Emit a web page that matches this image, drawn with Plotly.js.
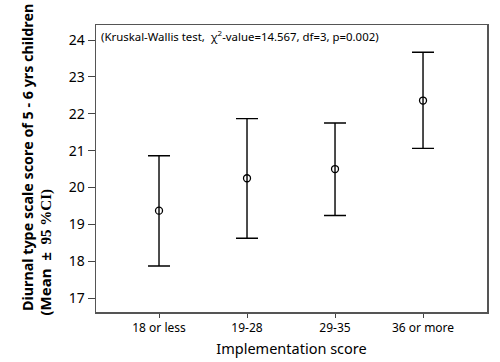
<!DOCTYPE html>
<html>
<head>
<meta charset="utf-8">
<script src="https://cdn.plot.ly/plotly-3.0.1.min.js"></script>
<style>html,body{margin:0;padding:0;background:#fff;}#chart{width:500px;height:362px;}</style>
</head>
<body>
<div id="chart"></div>
<script>
const categories = ["18 or less", "19-28", "29-35", "36 or more"];
const means = [19.37, 20.25, 20.50, 22.36];
const ciUpper = [20.86, 21.87, 21.75, 23.67];
const ciLower = [17.87, 18.62, 19.24, 21.06];
const yTicks = [17, 18, 19, 20, 21, 22, 23, 24];
const noteText = "(Kruskal-Wallis test,  \u03C7<sup>2</sup>-value=14.567, df=3, p=0.002)";
const yTitleLine1 = "Diurnal type scale score of 5 - 6 yrs children";
const yTitleLine2a = "(Mean \u00A0\u00B1\u00A0 ";
const yTitleLine2b = "95 %CI)";

const FONT = "Noto Sans, Open Sans, sans-serif";
const idx = categories.map((c, i) => i);

const trace = {
  type: "scatter",
  mode: "markers",
  x: idx,
  y: means,
  marker: {symbol: "circle-open", size: 7, color: "#000", line: {width: 1.3, color: "#000"}},
  error_y: {
    type: "data",
    symmetric: false,
    array: ciUpper.map((u, i) => u - means[i]),
    arrayminus: ciLower.map((l, i) => means[i] - l),
    color: "#000",
    thickness: 1.4,
    width: 11
  },
  hoverinfo: "skip",
  showlegend: false
};

const layout = {
  width: 500,
  height: 362,
  margin: {l: 96, r: 13, t: 25, b: 50},
  paper_bgcolor: "#fff",
  plot_bgcolor: "#fff",
  font: {family: FONT, color: "#000"},
  xaxis: {
    range: [-0.716, 3.727],
    tickmode: "array",
    tickvals: idx,
    ticktext: categories,
    ticks: "outside",
    ticklen: 4,
    tickwidth: 1,
    tickcolor: "#444",
    tickfont: {size: 12, family: FONT},
    showgrid: false,
    zeroline: false,
    showline: true,
    mirror: true,
    linecolor: "#555",
    linewidth: 1.5,
    title: {text: "Implementation score", font: {size: 14.5, family: FONT}, standoff: 9}
  },
  yaxis: {
    range: [16.62, 24.41],
    tickmode: "array",
    tickvals: yTicks,
    ticktext: yTicks.map(String),
    ticks: "outside",
    ticklen: 7,
    tickwidth: 1,
    tickcolor: "#444",
    tickfont: {size: 14, family: FONT},
    showgrid: false,
    zeroline: false,
    showline: true,
    mirror: true,
    linecolor: "#555",
    linewidth: 1.5
  },
  annotations: [{
    xref: "paper", yref: "paper",
    x: 0.008, y: 0.965,
    xanchor: "left", yanchor: "middle",
    text: noteText,
    showarrow: false,
    font: {size: 11.4, family: FONT, color: "#000"}
  }, {
    xref: "paper", yref: "paper",
    x: -0.1765, y: 0.54,
    xanchor: "center", yanchor: "middle",
    textangle: -90,
    text: "<b>" + yTitleLine1 + "</b>",
    showarrow: false,
    font: {size: 14.3, family: FONT, color: "#000"}
  }, {
    xref: "paper", yref: "paper",
    x: -0.1304, y: -0.021,
    xanchor: "center", yanchor: "bottom",
    textangle: -90,
    text: "<b>" + yTitleLine2a + "<span style=\"font-family:'Liberation Serif', serif\">" + yTitleLine2b + "</span></b>",
    showarrow: false,
    font: {size: 15, family: FONT, color: "#000"}
  }]
};

Plotly.newPlot("chart", [trace], layout, {displayModeBar: false, staticPlot: true});
</script>
</body>
</html>
